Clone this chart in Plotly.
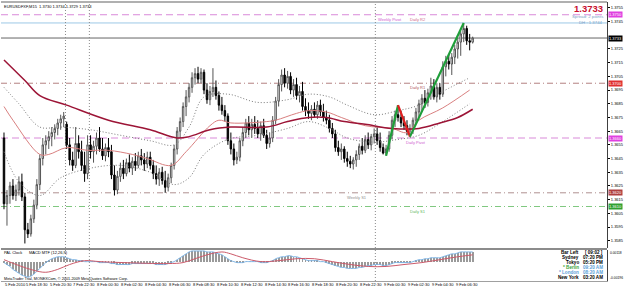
import plotly.graph_objects as go

# ---------------- data ----------------
bar_index = list(range(158))

open_ = [1.3660,1.3612,1.3618,1.3625,1.3618,1.3622,1.3628,1.3617,1.3593,1.3590,
         1.3601,1.3611,1.3626,1.3645,1.3655,1.3658,1.3661,1.3664,1.3667,1.3671,
         1.3674,1.3670,1.3655,1.3644,1.3640,1.3656,1.3650,1.3640,1.3634,1.3655,
         1.3650,1.3654,1.3660,1.3652,1.3647,1.3653,1.3650,1.3633,1.3622,1.3632,
         1.3638,1.3634,1.3642,1.3638,1.3643,1.3640,1.3647,1.3644,1.3641,1.3646,
         1.3640,1.3634,1.3630,1.3635,1.3629,1.3624,1.3631,1.3640,1.3652,1.3665,
         1.3672,1.3683,1.3690,1.3697,1.3704,1.3707,1.3703,1.3708,1.3695,1.3688,
         1.3694,1.3697,1.3691,1.3684,1.3680,1.3676,1.3658,1.3652,1.3644,1.3646,
         1.3658,1.3664,1.3671,1.3666,1.3670,1.3667,1.3663,1.3669,1.3662,1.3656,
         1.3660,1.3673,1.3687,1.3699,1.3706,1.3700,1.3705,1.3695,1.3699,1.3691,
         1.3694,1.3683,1.3680,1.3678,1.3681,1.3677,1.3684,1.3679,1.3675,1.3673,
         1.3667,1.3663,1.3653,1.3650,1.3652,1.3645,1.3643,1.3641,1.3644,1.3648,
         1.3654,1.3651,1.3659,1.3655,1.3661,1.3663,1.3658,1.3653,1.3649,1.3652,
         1.3662,1.3673,1.3677,1.3675,1.3671,1.3669,1.3665,1.3667,1.3673,1.3679,
         1.3685,1.3689,1.3686,1.3693,1.3698,1.3690,1.3697,1.3692,1.3712,1.3716,
         1.3714,1.3719,1.3725,1.3730,1.3736,1.3740,1.3731,1.3730]
high = [1.3664,1.3622,1.3628,1.3630,1.3626,1.3632,1.3634,1.3620,1.3598,1.3604,
        1.3615,1.3630,1.3648,1.3660,1.3662,1.3665,1.3668,1.3670,1.3674,1.3677,
        1.3679,1.3672,1.3660,1.3650,1.3668,1.3662,1.3658,1.3650,1.3662,1.3662,
        1.3658,1.3664,1.3668,1.3660,1.3656,1.3660,1.3655,1.3640,1.3636,1.3642,
        1.3644,1.3645,1.3648,1.3646,1.3649,1.3650,1.3652,1.3649,1.3650,1.3650,
        1.3644,1.3640,1.3638,1.3639,1.3636,1.3634,1.3642,1.3655,1.3668,1.3675,
        1.3686,1.3695,1.3700,1.3708,1.3711,1.3712,1.3711,1.3710,1.3700,1.3698,
        1.3711,1.3702,1.3694,1.3690,1.3684,1.3678,1.3664,1.3656,1.3650,1.3660,
        1.3668,1.3674,1.3676,1.3674,1.3676,1.3673,1.3672,1.3674,1.3666,1.3664,
        1.3676,1.3690,1.3703,1.3710,1.3711,1.3709,1.3708,1.3703,1.3704,1.3698,
        1.3701,1.3689,1.3686,1.3684,1.3686,1.3687,1.3688,1.3685,1.3680,1.3677,
        1.3671,1.3666,1.3658,1.3656,1.3654,1.3650,1.3647,1.3646,1.3651,1.3656,
        1.3660,1.3662,1.3664,1.3663,1.3667,1.3668,1.3664,1.3656,1.3655,1.3665,
        1.3676,1.3680,1.3684,1.3680,1.3676,1.3673,1.3670,1.3675,1.3682,1.3688,
        1.3692,1.3695,1.3696,1.3704,1.3703,1.3700,1.3700,1.3716,1.3720,1.3721,
        1.3722,1.3728,1.3733,1.3738,1.3744,1.3742,1.3736,1.3734]
low = [1.3608,1.3596,1.3612,1.3615,1.3614,1.3618,1.3614,1.3583,1.3587,1.3588,
       1.3598,1.3608,1.3622,1.3640,1.3648,1.3652,1.3654,1.3659,1.3662,1.3666,
       1.3668,1.3652,1.3640,1.3636,1.3638,1.3645,1.3636,1.3628,1.3630,1.3645,
       1.3642,1.3648,1.3650,1.3644,1.3643,1.3646,1.3630,1.3618,1.3619,1.3628,
       1.3630,1.3632,1.3635,1.3633,1.3636,1.3638,1.3640,1.3636,1.3638,1.3637,
       1.3630,1.3626,1.3625,1.3626,1.3620,1.3621,1.3627,1.3637,1.3648,1.3660,
       1.3668,1.3676,1.3686,1.3693,1.3699,1.3700,1.3700,1.3692,1.3685,1.3684,
       1.3690,1.3688,1.3680,1.3677,1.3672,1.3655,1.3648,1.3640,1.3641,1.3643,
       1.3654,1.3660,1.3662,1.3660,1.3663,1.3660,1.3658,1.3660,1.3652,1.3653,
       1.3657,1.3670,1.3683,1.3694,1.3697,1.3696,1.3692,1.3690,1.3688,1.3686,
       1.3680,1.3676,1.3674,1.3673,1.3675,1.3674,1.3676,1.3672,1.3670,1.3664,
       1.3660,1.3650,1.3647,1.3644,1.3642,1.3639,1.3638,1.3637,1.3639,1.3644,
       1.3648,1.3649,1.3652,1.3651,1.3656,1.3655,1.3650,1.3648,1.3647,1.3650,
       1.3659,1.3668,1.3672,1.3668,1.3666,1.3662,1.3661,1.3663,1.3670,1.3675,
       1.3680,1.3682,1.3683,1.3688,1.3688,1.3686,1.3688,1.3690,1.3705,1.3710,
       1.3706,1.3714,1.3718,1.3720,1.3730,1.3728,1.3724,1.3729]
close = [1.3612,1.3618,1.3625,1.3618,1.3622,1.3628,1.3617,1.3593,1.3590,1.3601,
         1.3611,1.3626,1.3645,1.3655,1.3658,1.3661,1.3664,1.3667,1.3671,1.3674,
         1.3676,1.3655,1.3644,1.3640,1.3656,1.3650,1.3640,1.3634,1.3655,1.3650,
         1.3654,1.3660,1.3652,1.3647,1.3653,1.3650,1.3633,1.3622,1.3632,1.3638,
         1.3634,1.3642,1.3638,1.3643,1.3640,1.3647,1.3644,1.3641,1.3646,1.3640,
         1.3634,1.3630,1.3635,1.3629,1.3624,1.3631,1.3640,1.3652,1.3665,1.3672,
         1.3683,1.3690,1.3697,1.3704,1.3707,1.3703,1.3708,1.3695,1.3688,1.3694,
         1.3697,1.3691,1.3684,1.3680,1.3676,1.3658,1.3652,1.3644,1.3646,1.3658,
         1.3664,1.3671,1.3666,1.3670,1.3667,1.3663,1.3669,1.3662,1.3656,1.3660,
         1.3673,1.3687,1.3699,1.3706,1.3700,1.3705,1.3695,1.3699,1.3691,1.3694,
         1.3683,1.3680,1.3678,1.3681,1.3677,1.3684,1.3679,1.3675,1.3673,1.3667,
         1.3663,1.3653,1.3650,1.3652,1.3645,1.3643,1.3641,1.3644,1.3648,1.3654,
         1.3651,1.3659,1.3655,1.3661,1.3663,1.3658,1.3653,1.3649,1.3652,1.3662,
         1.3673,1.3677,1.3675,1.3671,1.3669,1.3665,1.3667,1.3673,1.3679,1.3685,
         1.3689,1.3686,1.3693,1.3698,1.3690,1.3697,1.3692,1.3712,1.3716,1.3714,
         1.3719,1.3725,1.3730,1.3736,1.3740,1.3731,1.3730,1.3733]

# slow moving average (thick maroon)
ma_slow_idx = [0,7,12,21,35,49,58,62,69,76,88,95,102,108,114,121,130,139,146,152,157]
ma_slow_val = [1.3717,1.3702,1.3691,1.3684,1.3673,1.3666,1.3660,1.3661,1.3666,1.3668,1.3668,
               1.3672,1.3675,1.3675,1.3672,1.3670,1.3667,1.3667,1.3671,1.3675,1.3681]
# fast moving average (thin red)
ma_fast_idx = [0,3,12,15,21,28,35,43,48,56,61,69,72,76,88,91,98,102,108,113,121,130,135,139,147,156]
ma_fast_val = [1.3683,1.3673,1.3648,1.3648,1.3653,1.3651,1.3651,1.3648,1.3645,1.3640,1.3650,
               1.3669,1.3673,1.3671,1.3672,1.3673,1.3678,1.3680,1.3679,1.3675,1.3669,1.3667,
               1.3664,1.3673,1.3682,1.3695]
# bands (grey dotted)
band_idx = [0,5,12,19,29,39,49,57,62,67,75,85,95,102,109,115,124,132,139,147,156]
band_up = [1.3697,1.3685,1.3668,1.3668,1.3666,1.3662,1.3658,1.3655,1.3668,1.3690,1.3692,
           1.3686,1.3688,1.3692,1.3690,1.3684,1.3677,1.3680,1.3684,1.3694,1.3704]
band_dn = [1.3650,1.3628,1.3618,1.3631,1.3638,1.3640,1.3635,1.3626,1.3631,1.3648,1.3659,
           1.3662,1.3667,1.3672,1.3667,1.3660,1.3657,1.3659,1.3662,1.3672,1.3685]

# zigzag
zz_idx = [128,132,136,154]
zz_val = [1.3647,1.3684,1.3661,1.3744]

# MACD main (per bar) and signal
macd = [-0.0001,-0.0003,-0.0005,-0.0008,-0.0010,-0.0012,-0.0014,-0.0015,-0.0016,-0.0015,
        -0.0013,-0.0010,-0.0007,-0.0004,-0.0001,0.0001,0.0003,0.0004,0.0005,0.0005,
        0.0005,0.0004,0.0003,0.0002,0.0002,0.0001,0.0001,0.0000,0.0000,0.0000,
        0.0000,0.0000,-0.0001,-0.0001,-0.0001,-0.0001,-0.0002,-0.0002,-0.0003,-0.0003,
        -0.0003,-0.0003,-0.0003,-0.0002,-0.0002,-0.0002,-0.0002,-0.0002,-0.0002,-0.0002,
        -0.0002,-0.0003,-0.0003,-0.0003,-0.0003,-0.0002,-0.0001,0.0000,0.0002,0.0004,
        0.0006,0.0008,0.0010,0.0011,0.0011,0.0011,0.0011,0.0011,0.0010,0.0010,
        0.0010,0.0009,0.0008,0.0007,0.0005,0.0003,0.0001,0.0000,-0.0001,-0.0001,
        -0.0001,0.0000,0.0000,0.0000,0.0000,0.0000,-0.0001,-0.0001,-0.0001,0.0000,
        0.0001,0.0003,0.0004,0.0005,0.0005,0.0006,0.0006,0.0005,0.0005,0.0004,
        0.0003,0.0002,0.0001,0.0001,0.0001,0.0001,0.0000,0.0000,-0.0001,-0.0002,
        -0.0003,-0.0004,-0.0005,-0.0006,-0.0006,-0.0007,-0.0007,-0.0007,-0.0007,-0.0006,
        -0.0006,-0.0005,-0.0004,-0.0004,-0.0003,-0.0003,-0.0003,-0.0004,-0.0004,-0.0003,
        -0.0002,-0.0001,-0.0001,-0.0001,-0.0001,-0.0001,-0.0001,0.0000,0.0001,0.0002,
        0.0002,0.0003,0.0003,0.0004,0.0004,0.0004,0.0004,0.0005,0.0006,0.0007,
        0.0008,0.0008,0.0009,0.0010,0.0010,0.0010,0.0010,0.0010]
sig_idx = [0,5,10,14,18,22,27,32,40,55,60,64,68,73,76,80,86,92,98,104,110,116,122,128,134,140,146,152,157]
sig_val = [0.0002,-0.0004,-0.0009,-0.0011,-0.0008,-0.0003,0.0001,0.0000,-0.0001,-0.0002,-0.0001,
           0.0003,0.0007,0.0010,0.0008,0.0004,0.0000,0.0001,0.0003,0.0003,0.0000,-0.0003,
           -0.0005,-0.0005,-0.0003,-0.0001,0.0002,0.0005,0.0007]

# horizontal levels
level_values = [1.3750, 1.3744, 1.3733, 1.3700, 1.3660, 1.3620, 1.3610]
level_colors = ["#d98ad9", "#9cc8e6", "#666666", "#b38080", "#d98ad9", "#b09090", "#80c880"]
level_dash = ["7px,4px", "solid", "solid", "6px,3px,1px,3px", "7px,4px", "6px,3px,1px,3px", "6px,3px,1px,3px"]

level_text = ["Weekly Pivot", "Daily R2", "Daily R1", "Daily Pivot", "Weekly S1", "Daily S1"]
level_text_idx = [124.7, 135.3, 135.3, 134.0, 114.3, 135.3]
level_text_val = [1.3750, 1.3750, 1.3700, 1.3660, 1.3620, 1.3610]
level_text_col = ["#d060d0", "#d06a8a", "#b05a5a", "#d060d0", "#909090", "#5cb85c"]

box_values = [1.3750, 1.3733, 1.3700, 1.3660, 1.3620, 1.3610]
box_colors = ["#e040e0", "#000000", "#e03030", "#e040e0", "#b04040", "#30a030"]

day_breaks = [20.6, 28.6, 124.4]

tick_idx = [0,7,15,23,31,39,47,55,63,71,79,87,95,103,111,119,127,135,143,151]
tick_text = ["5 Feb 2010","5 Feb 18:30","5 Feb 20:30","7 Feb 22:30","8 Feb 00:30","8 Feb 02:30",
             "8 Feb 04:30","8 Feb 06:30","8 Feb 08:30","8 Feb 10:30","8 Feb 12:30","8 Feb 14:30",
             "8 Feb 16:30","8 Feb 18:30","8 Feb 20:30","8 Feb 22:30","9 Feb 00:30","9 Feb 02:30",
             "9 Feb 04:30","9 Feb 06:30"]

price_ticks = [1.3585,1.3595,1.3605,1.3615,1.3625,1.3635,1.3645,1.3655,1.3665,1.3675,
               1.3685,1.3695,1.3705,1.3715,1.3725,1.3745,1.3755]

macd_scale_text = ["0.00118", "-0.00196"]

clock_names = ["Bar Left", "Sydney", "Tokyo", "* Berlin", "* London", "New York"]
clock_times = ["[ 09:02 ]", "07:20 PM", "05:20 PM", "09:20 AM", "08:20 AM", "03:20 AM"]
clock_name_col = ["#000000", "#000000", "#000000", "#3aa53a", "#5aa0d8", "#000000"]
clock_time_col = ["#000000", "#000000", "#000000", "#5aa0d8", "#5aa0d8", "#000000"]

# ---------------- geometry ----------------
W, H = 625, 288
L, R, T, B = 1, 15, 2, 7
PW, PH = W - L - R, H - T - B


def px(x):
    return (x - L) / PW


def py(y):
    return (H - B - y) / PH


main_bottom = py(248)
macd_top = py(250)
FONT = "Liberation Sans, Arial, sans-serif"
DOTS = "1px,2px"

fig = go.Figure()

fig.add_trace(go.Scatter(x=band_idx, y=band_up, mode="lines", line=dict(color="#7a7a7a", width=1, dash=DOTS, shape="spline"),
                         hoverinfo="skip", showlegend=False))
fig.add_trace(go.Scatter(x=band_idx, y=band_dn, mode="lines", line=dict(color="#7a7a7a", width=1, dash=DOTS, shape="spline"),
                         hoverinfo="skip", showlegend=False))
fig.add_trace(go.Scatter(x=ma_fast_idx, y=ma_fast_val, mode="lines", line=dict(color="#d98080", width=1, shape="spline"),
                         hoverinfo="skip", showlegend=False))
fig.add_trace(go.Scatter(x=ma_slow_idx, y=ma_slow_val, mode="lines", line=dict(color="#9c1436", width=1.5, shape="spline"),
                         hoverinfo="skip", showlegend=False))

fig.add_trace(go.Candlestick(
    x=bar_index, open=open_, high=high, low=low, close=close,
    increasing=dict(line=dict(color="#555555", width=1), fillcolor="#ffffff"),
    decreasing=dict(line=dict(color="#000000", width=1), fillcolor="#000000"),
    whiskerwidth=0, hoverinfo="skip", showlegend=False))

# zigzag segments
zz_cols = ["#1f9e3a", "#e02020", "#1f9e3a"]
for k in range(3):
    fig.add_trace(go.Scatter(x=zz_idx[k:k + 2], y=zz_val[k:k + 2], mode="lines",
                             line=dict(color=zz_cols[k], width=2.2), hoverinfo="skip", showlegend=False))

# MACD
fig.add_trace(go.Bar(x=bar_index, y=macd, width=0.3, marker=dict(color="#9a9a9a", line=dict(width=0)),
                     yaxis="y2", hoverinfo="skip", showlegend=False))
fig.add_trace(go.Scatter(x=bar_index, y=macd, mode="lines", line=dict(color="#7db3e3", width=1, shape="spline"),
                         yaxis="y2", hoverinfo="skip", showlegend=False))
fig.add_trace(go.Scatter(x=sig_idx, y=sig_val, mode="lines", line=dict(color="#cc5a6a", width=1, shape="spline"),
                         yaxis="y2", hoverinfo="skip", showlegend=False))

shapes = []
for v, c, d in zip(level_values, level_colors, level_dash):
    shapes.append(dict(type="line", xref="paper", x0=0, x1=1, yref="y", y0=v, y1=v,
                       line=dict(color=c, width=1, dash=d), layer="below"))
for b in day_breaks:
    shapes.append(dict(type="line", xref="x", x0=b, x1=b, yref="paper", y0=0, y1=1,
                       line=dict(color="#8a8a8a", width=1, dash=DOTS), layer="below"))
shapes.append(dict(type="line", xref="paper", x0=0, x1=1, yref="paper", y0=py(249), y1=py(249),
                   line=dict(color="#8c8c8c", width=2)))
shapes.append(dict(type="line", xref="paper", x0=0, x1=1, yref="paper", y0=1, y1=1,
                   line=dict(color="#b0b0b0", width=2)))

ann = []
for t, xi, v, c in zip(level_text, level_text_idx, level_text_val, level_text_col):
    ann.append(dict(text=t, x=xi, y=v, xref="x", yref="y", xanchor="left", yanchor="top",
                    showarrow=False, font=dict(size=4, color=c, family=FONT)))
for v, c in zip(box_values, box_colors):
    ann.append(dict(text=f"{v:.4f}", x=1, y=v, xref="paper", yref="y", xanchor="left", yanchor="middle",
                    xshift=1, showarrow=False, bgcolor=c, borderpad=0,
                    font=dict(size=4, color="#ffffff", family=FONT)))
for xi, t in zip(tick_idx, tick_text):
    ann.append(dict(text=t, x=xi - 0.4, y=py(284), xref="x", yref="paper", xanchor="left", yanchor="middle",
                    showarrow=False, font=dict(size=4, color="#000000", family=FONT)))

ann.append(dict(text="EURUSDFXF,M15  1.3730 1.3734 1.3729 1.3733", x=px(2), y=py(2.5), xref="paper", yref="paper",
                xanchor="left", yanchor="top", showarrow=False, font=dict(size=4, color="#000", family=FONT)))
ann.append(dict(text="<b>1.3733</b>", x=px(608), y=py(8.5), xref="paper", yref="paper", xanchor="right",
                yanchor="middle", showarrow=False, font=dict(size=9.5, color="#c8102e", family=FONT)))
ann.append(dict(text="Spread: 2 points", x=px(608), y=py(16), xref="paper", yref="paper", xanchor="right",
                yanchor="middle", showarrow=False, font=dict(size=4.3, color="#7aa3c8", family=FONT)))
ann.append(dict(text="DH : 1.3744", x=px(608), y=py(22.5), xref="paper", yref="paper", xanchor="right",
                yanchor="middle", showarrow=False, font=dict(size=4.3, color="#7aa3c8", family=FONT)))
ann.append(dict(text="PAL Clock      MACD MTF (12,26,9)", x=px(2), y=py(253), xref="paper", yref="paper",
                xanchor="left", yanchor="middle", showarrow=False, font=dict(size=4, color="#000", family=FONT)))
ann.append(dict(text="MetaTrader Trial, MONEXCom, \u00a9 2001-2009 MetaQuotes Software Corp.", x=px(2), y=py(278.5),
                xref="paper", yref="paper", xanchor="left", yanchor="middle", showarrow=False,
                font=dict(size=3.8, color="#000", family=FONT)))
rows_y = [252, 257, 262, 267, 272, 277]
for ry, n, t, cn, ct in zip(rows_y, clock_names, clock_times, clock_name_col, clock_time_col):
    ann.append(dict(text=f"<b>{n}</b>", x=px(584), y=py(ry), xref="paper", yref="paper", xanchor="right",
                    yanchor="middle", showarrow=False, font=dict(size=4.6, color=cn, family=FONT)))
    ann.append(dict(text=f"<b>{t}</b>", x=px(608), y=py(ry), xref="paper", yref="paper", xanchor="right",
                    yanchor="middle", showarrow=False, font=dict(size=4.6, color=ct, family=FONT)))
for t, ry in zip(macd_scale_text, [252.5, 277.5]):
    ann.append(dict(text=t, x=1, y=py(ry), xref="paper", yref="paper", xanchor="left", yanchor="middle",
                    xshift=1, showarrow=False, font=dict(size=3.3, color="#000", family=FONT)))

fig.update_layout(
    width=W, height=H, margin=dict(l=L, r=R, t=T, b=B),
    paper_bgcolor="#ffffff", plot_bgcolor="#ffffff",
    showlegend=False, shapes=shapes, annotations=ann,
    xaxis=dict(range=[-1, 202], domain=[0, 1], anchor="y2", showgrid=False, zeroline=False,
               showticklabels=False, ticks="", rangeslider=dict(visible=False),
               showline=True, linecolor="#a0a0a0", linewidth=1, fixedrange=True),
    yaxis=dict(domain=[main_bottom, 1], range=[1.35797, 1.37593], side="right", anchor="x",
               tickvals=price_ticks, ticktext=[f"{v:.4f}" for v in price_ticks],
               tickfont=dict(size=4, color="#000", family=FONT), ticks="outside", ticklen=2,
               tickcolor="#000", showgrid=False, zeroline=False, showline=True,
               linecolor="#404040", linewidth=1, fixedrange=True),
    yaxis2=dict(domain=[0, macd_top], range=[-0.0020, 0.0012], side="right", anchor="x",
                showticklabels=False, ticks="", showgrid=False, zeroline=False, showline=True,
                linecolor="#404040", linewidth=1, fixedrange=True),
    bargap=0,
)

fig.write_html("out.html")
